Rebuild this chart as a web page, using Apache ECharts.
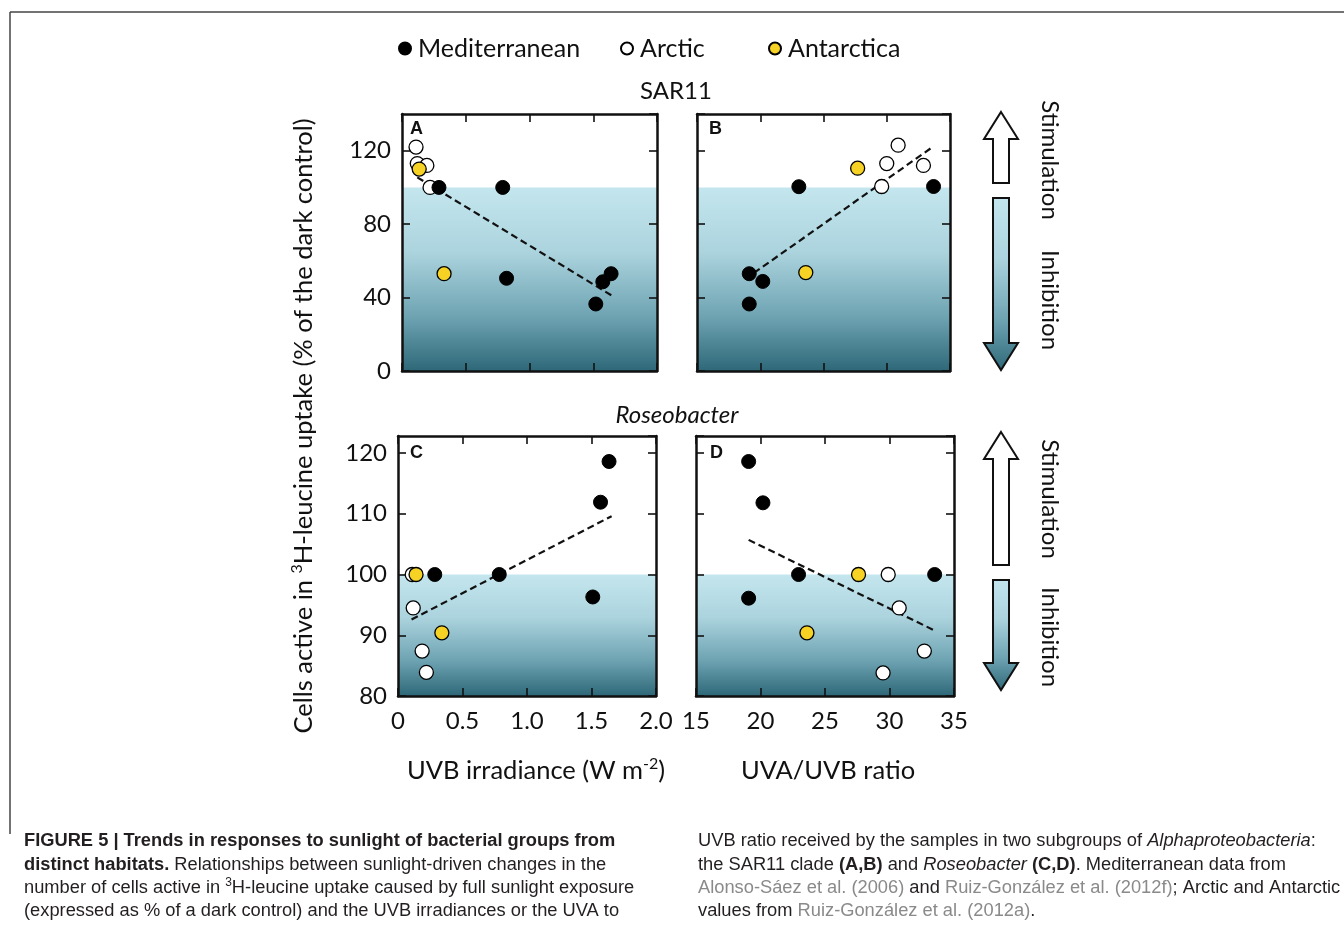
<!DOCTYPE html>
<html>
<head>
<meta charset="utf-8">
<script src="https://cdn.jsdelivr.net/npm/echarts@6/dist/echarts.min.js"></script>
<style>
html, body { margin: 0; background: #fff; }
#main { width: 1344px; height: 932px; }
</style>
</head>
<body>
<div id="main"></div>
<script>
// SAR11 vs UVB irradiance (panel A)
var aMed = [[0.29, 100], [0.79, 100], [0.82, 50.5], [1.52, 36.5], [1.575, 48.6], [1.64, 53]];
var aArc = [[0.11, 122], [0.12, 113], [0.195, 112], [0.22, 100]];
var aAnt = [[0.135, 110], [0.33, 53]];
var aFit = [[0.12, 105.5], [1.65, 40.9]];
// SAR11 vs UVA/UVB ratio (panel B)
var bMed = [[19.13, 53], [20.2, 48.8], [19.13, 36.5], [23.05, 100.4], [33.7, 100.5]];
var bArc = [[30.0, 113], [30.9, 123], [29.6, 100.5], [32.9, 112]];
var bAnt = [[23.6, 53.6], [27.7, 110.5]];
var bFit = [[19.5, 53.4], [33.6, 121.9]];
// Roseobacter vs UVB irradiance (panel C)
var cMed = [[0.285, 100], [0.785, 100], [1.51, 96.3], [1.57, 111.9], [1.636, 118.6]];
var cArc = [[0.11, 100], [0.118, 94.5], [0.187, 87.4], [0.22, 83.9]];
var cAnt = [[0.14, 100], [0.34, 90.4]];
var cFit = [[0.105, 92.6], [1.656, 109.6]];
// Roseobacter vs UVA/UVB ratio (panel D)
var dMed = [[19.08, 118.6], [20.19, 111.8], [22.95, 100], [19.08, 96.1], [33.5, 100]];
var dArc = [[29.9, 100], [30.75, 94.5], [32.7, 87.4], [29.5, 83.8]];
var dAnt = [[23.6, 90.4], [27.6, 100]];
var dFit = [[19.08, 105.7], [33.38, 90.9]];

var panelLetters = ['A', 'B', 'C', 'D'];
var rValues = ['R = 0.81', 'R = 0.86', 'R = 0.70', 'R = 0.57'];
var pValues = ['p < 0.002', 'p < 0.001', 'p < 0.02', 'p < 0.1'];

var FONT = 'Lato';
var myChart = echarts.init(document.getElementById('main'));

var grids = [
    {left: 402, top: 114, width: 255, height: 257},
    {left: 697, top: 114, width: 253, height: 257},
    {left: 398, top: 436, width: 258, height: 260},
    {left: 696, top: 436, width: 258, height: 260}
];
// x range, y range per panel
var xr = [[0, 2, 0.5], [15, 35, 5], [0, 2, 0.5], [15, 35, 5]];
var yr = [[0, 140, 40], [0, 140, 40], [80, 122.8, 10], [80, 122.8, 10]];

function shade() {
    return new echarts.graphic.LinearGradient(0, 0, 0, 1, [
        {offset: 0, color: '#c4e6ee'},
        {offset: 0.35, color: '#acd4de'},
        {offset: 0.7, color: '#6fa4b3'},
        {offset: 1, color: '#2e6878'}
    ]);
}

var xAxes = [], yAxes = [], series = [];
for (var i = 0; i < 4; i++) {
    var line = {show: true, onZero: false, lineStyle: {color: '#111', width: 2.5}};
    var tick = {show: true, inside: true, length: 8, lineStyle: {color: '#111', width: 1.6}};
    // bottom and top x axes
    xAxes.push({
        gridIndex: i, type: 'value', min: xr[i][0], max: xr[i][1], interval: xr[i][2],
        position: 'bottom', z: 5, axisLine: line, axisTick: tick, splitLine: {show: false},
        axisLabel: {
            show: i >= 2, fontFamily: FONT, fontSize: 24, color: '#111', margin: 13,
            formatter: function (v) { return v < 5 && v !== 0 ? v.toFixed(1) : String(v); }
        }
    });
    xAxes.push({
        gridIndex: i, type: 'value', min: xr[i][0], max: xr[i][1], interval: xr[i][2],
        position: 'top', z: 5, axisLine: line, axisTick: tick, splitLine: {show: false},
        axisLabel: {show: false}
    });
    // left and right y axes
    yAxes.push({
        gridIndex: i, type: 'value', min: yr[i][0], max: yr[i][1], interval: yr[i][2],
        position: 'left', z: 5, axisLine: line, axisTick: tick, splitLine: {show: false},
        axisLabel: {
            show: i % 2 === 0, fontFamily: FONT, fontSize: 24, color: '#111', margin: 11,
            showMaxLabel: false
        }
    });
    yAxes.push({
        gridIndex: i, type: 'value', min: yr[i][0], max: yr[i][1], interval: yr[i][2],
        position: 'right', z: 5, axisLine: line, axisTick: tick, splitLine: {show: false},
        axisLabel: {show: false}
    });
}

var allData = [
    [aMed, aArc, aAnt, aFit],
    [bMed, bArc, bAnt, bFit],
    [cMed, cArc, cAnt, cFit],
    [dMed, dArc, dAnt, dFit]
];
for (var k = 0; k < 4; k++) {
    var d = allData[k];
    series.push({
        name: 'fit' + k, type: 'line', xAxisIndex: 2 * k, yAxisIndex: 2 * k,
        data: d[3], symbol: 'none', z: 2, silent: true,
        lineStyle: {color: '#111', width: 2.2, type: [7, 4]},
        markArea: {
            silent: true,
            itemStyle: {color: shade()},
            data: [[{coord: [xr[k][0], yr[k][0]]}, {coord: [xr[k][1], 100]}]]
        }
    });
    series.push({
        name: 'Arctic', type: 'scatter', xAxisIndex: 2 * k, yAxisIndex: 2 * k, data: d[1],
        symbolSize: 14, z: 3,
        itemStyle: {color: '#fff', borderColor: '#000', borderWidth: 1.3, opacity: 1}
    });
    series.push({
        name: 'Mediterranean', type: 'scatter', xAxisIndex: 2 * k, yAxisIndex: 2 * k, data: d[0],
        symbolSize: 14, z: 3,
        itemStyle: {color: '#000', borderColor: '#000', borderWidth: 1, opacity: 1}
    });
    series.push({
        name: 'Antarctica', type: 'scatter', xAxisIndex: 2 * k, yAxisIndex: 2 * k, data: d[2],
        symbolSize: 14, z: 3,
        itemStyle: {color: '#f6d225', borderColor: '#000', borderWidth: 1.3, opacity: 1}
    });
}

function legendAt(name, left) {
    return {
        data: [name], left: left, top: 31, icon: 'circle', itemWidth: 12, itemHeight: 12,
        itemGap: 0, selectedMode: false,
        textStyle: {fontFamily: FONT, fontSize: 25, color: '#111', padding: [0, 0, 0, 2]}
    };
}

function txt(x, y, text, extra) {
    var st = {x: 0, y: 0, text: text, fontFamily: FONT, fontSize: 24, fill: '#111',
        align: 'center', verticalAlign: 'middle'};
    for (var p in extra) st[p] = extra[p];
    return {type: 'text', x: x, y: y, style: st, silent: true};
}

function upArrow(cx, top, bottom) {
    return {
        type: 'polygon', silent: true,
        shape: {points: [[cx, top], [cx + 17, top + 27], [cx + 8, top + 27], [cx + 8, bottom],
            [cx - 8, bottom], [cx - 8, top + 27], [cx - 17, top + 27]]},
        style: {fill: '#fff', stroke: '#111', lineWidth: 2}
    };
}
function downArrow(cx, top, bottom) {
    return {
        type: 'polygon', silent: true,
        shape: {points: [[cx - 8, top], [cx + 8, top], [cx + 8, bottom - 27], [cx + 17, bottom - 27],
            [cx, bottom], [cx - 17, bottom - 27], [cx - 8, bottom - 27]]},
        style: {fill: shade(), stroke: '#111', lineWidth: 2}
    };
}

var graphics = [
    // frame
    {type: 'line', silent: true, shape: {x1: 10, y1: 12, x2: 1344, y2: 12}, style: {stroke: '#444', lineWidth: 1.5}},
    {type: 'line', silent: true, shape: {x1: 10, y1: 12, x2: 10, y2: 834}, style: {stroke: '#444', lineWidth: 1.5}},
    txt(676, 91, 'SAR11'),
    txt(677, 415, 'Roseobacter', {fontStyle: 'italic'}),
    txt(304, 426, '{n|Cells active in }{s|3}{n|H-leucine uptake (% of the dark control)}', {
        rich: {n: {fontFamily: FONT, fontSize: 25.5, fill: '#111', lineHeight: 30},
            s: {fontFamily: FONT, fontSize: 16, fill: '#111', lineHeight: 30, verticalAlign: 'top'}}
    }),
    txt(536, 771, '{n|UVB irradiance (W m}{s|-2}{n|)}', {
        rich: {n: {fontFamily: FONT, fontSize: 25.5, fill: '#111', lineHeight: 30},
            s: {fontFamily: FONT, fontSize: 16, fill: '#111', lineHeight: 30, verticalAlign: 'top'}}
    }),
    txt(828, 771, 'UVA/UVB ratio', {fontSize: 25.5}),
    upArrow(1001, 112, 183),
    downArrow(1001, 198, 370),
    upArrow(1001, 432, 565),
    downArrow(1001, 580, 690),
    txt(1050, 160, 'Stimulation', {}),
    txt(1050, 300, 'Inhibition', {}),
    txt(1050, 499, 'Stimulation', {}),
    txt(1050, 637, 'Inhibition', {})
];
// rotate the vertical labels
graphics[4].rotation = Math.PI / 2;
for (var g = graphics.length - 4; g < graphics.length; g++) graphics[g].rotation = -Math.PI / 2;

// panel letters and statistics
var letterPos = [[410, 129], [709, 129], [410, 453], [710, 453]];
for (var q = 0; q < 4; q++) {
    graphics.push(txt(letterPos[q][0], letterPos[q][1], panelLetters[q],
        {align: 'left', fontFamily: 'Liberation Sans', fontWeight: 'bold', fontSize: 18}));
}
var statPos = [[413, 330, 353, 'left'], [935, 331, 353, 'right'], [641, 657, 679, 'right'], [712, 655, 677, 'left']];
for (var s = 0; s < 4; s++) {
    graphics.push(txt(statPos[s][0], statPos[s][1], rValues[s], {align: statPos[s][3], fontSize: 17}));
    graphics.push(txt(statPos[s][0], statPos[s][2], pValues[s], {align: statPos[s][3], fontSize: 17}));
}

// caption
var CAP = 18.3;
var capRich = {
    n: {fontFamily: 'Liberation Sans', fontSize: CAP, fill: '#231f20'},
    b: {fontFamily: 'Liberation Sans', fontSize: CAP, fontWeight: 'bold', fill: '#231f20'},
    i: {fontFamily: 'Liberation Sans', fontSize: CAP, fontStyle: 'italic', fill: '#231f20'},
    g: {fontFamily: 'Liberation Sans', fontSize: CAP, fill: '#8a8a8a'},
    s: {fontFamily: 'Liberation Sans', fontSize: 12, fill: '#231f20', verticalAlign: 'top', lineHeight: 22}
};
var capLeft = [
    '{b|FIGURE 5 | Trends in responses to sunlight of bacterial groups from}',
    '{b|distinct habitats.}{n| Relationships between sunlight-driven changes in the}',
    '{n|number of cells active in }{s|3}{n|H-leucine uptake caused by full sunlight exposure}',
    '{n|(expressed as % of a dark control) and the UVB irradiances or the UVA to}'
];
var capRight = [
    '{n|UVB ratio received by the samples in two subgroups of }{i|Alphaproteobacteria}{n|:}',
    '{n|the SAR11 clade }{b|(A,B)}{n| and }{i|Roseobacter}{n| }{b|(C,D)}{n|. Mediterranean data from}',
    '{g|Alonso-Sáez et al. (2006)}{n| and }{g|Ruiz-González et al. (2012f)}{n|; Arctic and Antarctic}',
    '{n|values from }{g|Ruiz-González et al. (2012a)}{n|.}'
];
var capY = [841, 865, 888, 911];
for (var c = 0; c < 4; c++) {
    graphics.push(txt(24, capY[c], capLeft[c], {align: 'left', rich: capRich}));
    graphics.push(txt(698, capY[c], capRight[c], {align: 'left', rich: capRich}));
}

var option = {
    animation: false,
    backgroundColor: '#fff',
    grid: grids.map(function (g) { return Object.assign({containLabel: false}, g); }),
    xAxis: xAxes,
    yAxis: yAxes,
    legend: [legendAt('Mediterranean', 393), legendAt('Arctic', 615), legendAt('Antarctica', 763)],
    series: series,
    graphic: graphics
};
myChart.setOption(option);
</script>
</body>
</html>
